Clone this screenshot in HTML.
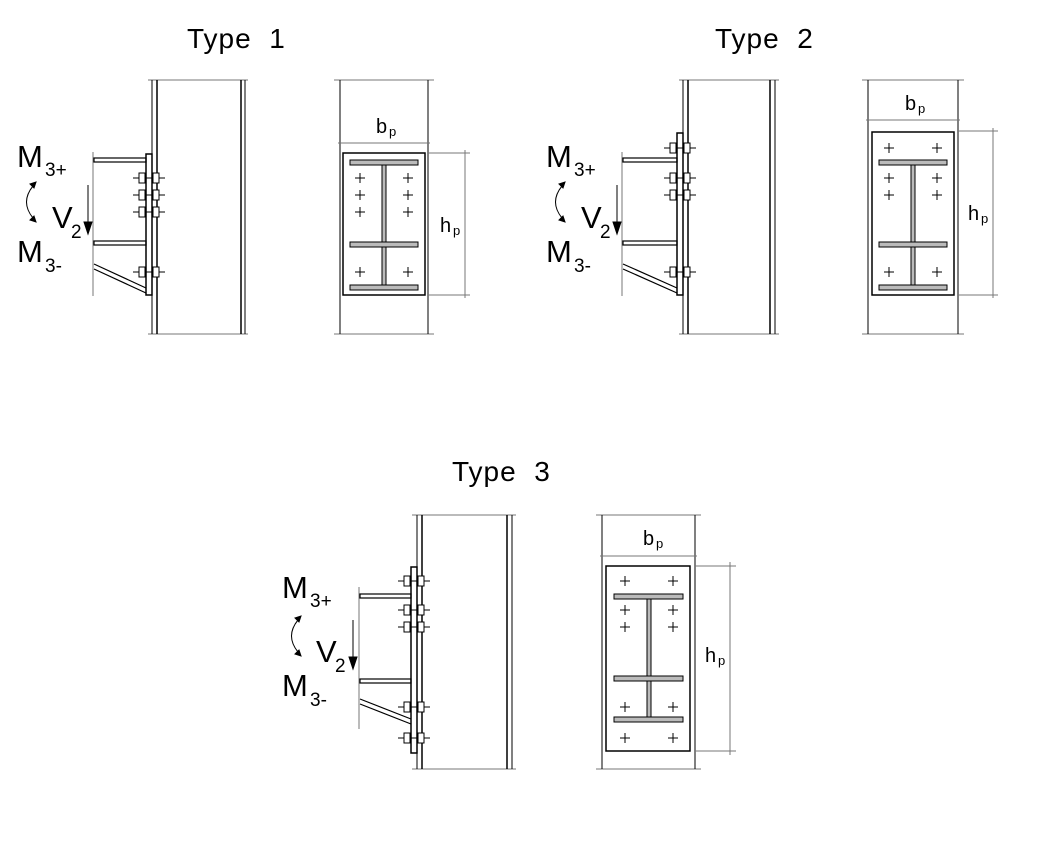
<!DOCTYPE html>
<html><head><meta charset="utf-8"><style>
html,body{margin:0;padding:0;background:#fff}
svg{display:block}
text{font-family:"Liberation Sans",sans-serif;fill:#000}
</style></head><body>
<svg width="1040" height="844" viewBox="0 0 1040 844" xmlns="http://www.w3.org/2000/svg">
<defs>
<g id="bolt" stroke="#000" stroke-width="1" fill="#fff">
<line x1="-16" y1="0" x2="16" y2="0"/>
<rect x="-10" y="-5" width="6" height="10"/>
<rect x="4" y="-5" width="6" height="10"/>
</g>
<g id="plus" stroke="#000" stroke-width="1">
<line x1="-5" y1="0" x2="5" y2="0"/><line x1="0" y1="-5" x2="0" y2="5"/>
</g>
</defs>

<!-- Titles -->
<text x="187" y="48" font-size="28" letter-spacing="1">Type&#160; 1</text>
<text x="715" y="48" font-size="28" letter-spacing="1">Type&#160; 2</text>
<text x="452" y="481" font-size="28" letter-spacing="1">Type&#160; 3</text>

<!-- ===== TYPE 1 SIDE ===== -->
<g stroke="#000" fill="none">
<line x1="148" y1="80" x2="248" y2="80" stroke="#777"/>
<line x1="148" y1="334" x2="248" y2="334" stroke="#777"/>
<line x1="152" y1="80" x2="152" y2="334"/><line x1="157" y1="80" x2="157" y2="334" stroke-width="1.5"/>
<line x1="241" y1="80" x2="241" y2="334" stroke-width="1.5"/><line x1="245" y1="80" x2="245" y2="334"/>
<rect x="146" y="154" width="6" height="141" fill="#fff" stroke-width="1.5"/>
<line x1="93" y1="152" x2="93" y2="296" stroke="#777"/>
<rect x="94" y="158" width="52" height="4" stroke-width="1.2"/>
<rect x="94" y="241" width="52" height="4" stroke-width="1.2"/>
<line x1="94" y1="264" x2="146" y2="288" stroke-width="1.2"/><line x1="94" y1="269" x2="146" y2="293" stroke-width="1.2"/>
<line x1="88" y1="185" x2="88" y2="224"/>
<path d="M84,222 L92,222 L88,234 Z" fill="#000"/>
<path d="M33,186 Q20,202 33,218" stroke-width="1"/>
<path d="M30,184 l6,-2 l-2,6z M30,220 l6,2 l-2,-6z" fill="#000"/>
</g>
<use href="#bolt" x="149" y="178"/><use href="#bolt" x="149" y="195"/><use href="#bolt" x="149" y="212"/><use href="#bolt" x="149" y="272"/>
<text x="17" y="167" font-size="31">M</text><text x="45" y="176" font-size="19">3+</text>
<text x="52" y="228" font-size="31">V</text><text x="71" y="238" font-size="19">2</text>
<text x="17" y="262" font-size="31">M</text><text x="45" y="272" font-size="19">3-</text>

<!-- ===== TYPE 1 FRONT ===== -->
<g stroke="#000" fill="none">
<line x1="334" y1="80" x2="434" y2="80" stroke="#777"/><line x1="334" y1="334" x2="434" y2="334" stroke="#777"/>
<line x1="340" y1="80" x2="340" y2="334"/><line x1="428" y1="80" x2="428" y2="334"/>
<line x1="338" y1="143" x2="430" y2="143" stroke="#777"/>
<rect x="343" y="153" width="82" height="142" stroke-width="1.5"/>
<rect x="350" y="160" width="68" height="5" fill="#bbb"/>
<rect x="350" y="242" width="68" height="5" fill="#bbb"/>
<rect x="350" y="285" width="68" height="5" fill="#bbb"/>
<rect x="382" y="165" width="4" height="77" fill="#bbb"/>
<rect x="382" y="247" width="4" height="38" fill="#bbb"/>
<line x1="428" y1="153" x2="470" y2="153" stroke="#777"/><line x1="428" y1="295" x2="470" y2="295" stroke="#777"/>
<line x1="465" y1="150" x2="465" y2="298" stroke="#777"/>
</g>
<use href="#plus" x="360" y="178"/><use href="#plus" x="408" y="178"/><use href="#plus" x="360" y="195"/><use href="#plus" x="408" y="195"/><use href="#plus" x="360" y="212"/><use href="#plus" x="408" y="212"/><use href="#plus" x="360" y="272"/><use href="#plus" x="408" y="272"/>
<text x="376" y="133" font-size="20">b</text><text x="389" y="136" font-size="13">p</text>
<text x="440" y="232" font-size="20">h</text><text x="453" y="235" font-size="13">p</text>

<!-- ===== TYPE 2 SIDE ===== -->
<g stroke="#000" fill="none">
<line x1="679" y1="80" x2="779" y2="80" stroke="#777"/><line x1="679" y1="334" x2="779" y2="334" stroke="#777"/>
<line x1="683" y1="80" x2="683" y2="334"/><line x1="688" y1="80" x2="688" y2="334" stroke-width="1.5"/>
<line x1="770" y1="80" x2="770" y2="334" stroke-width="1.5"/><line x1="775" y1="80" x2="775" y2="334"/>
<rect x="677" y="133" width="6" height="162" fill="#fff" stroke-width="1.5"/>
<line x1="622" y1="152" x2="622" y2="296" stroke="#777"/>
<rect x="623" y="158" width="54" height="4" stroke-width="1.2"/>
<rect x="623" y="241" width="54" height="4" stroke-width="1.2"/>
<line x1="623" y1="264" x2="677" y2="288" stroke-width="1.2"/><line x1="623" y1="269" x2="677" y2="293" stroke-width="1.2"/>
<line x1="617" y1="185" x2="617" y2="224"/>
<path d="M613,222 L621,222 L617,234 Z" fill="#000"/>
<path d="M562,186 Q549,202 562,218" stroke-width="1"/>
<path d="M559,184 l6,-2 l-2,6z M559,220 l6,2 l-2,-6z" fill="#000"/>
</g>
<use href="#bolt" x="680" y="148"/><use href="#bolt" x="680" y="178"/><use href="#bolt" x="680" y="195"/><use href="#bolt" x="680" y="272"/>
<text x="546" y="167" font-size="31">M</text><text x="574" y="176" font-size="19">3+</text>
<text x="581" y="228" font-size="31">V</text><text x="600" y="238" font-size="19">2</text>
<text x="546" y="262" font-size="31">M</text><text x="574" y="272" font-size="19">3-</text>

<!-- ===== TYPE 2 FRONT ===== -->
<g stroke="#000" fill="none">
<line x1="862" y1="80" x2="964" y2="80" stroke="#777"/><line x1="862" y1="334" x2="964" y2="334" stroke="#777"/>
<line x1="868" y1="80" x2="868" y2="334"/><line x1="958" y1="80" x2="958" y2="334"/>
<line x1="866" y1="120" x2="960" y2="120" stroke="#777"/>
<rect x="872" y="132" width="82" height="163" stroke-width="1.5"/>
<rect x="879" y="160" width="68" height="5" fill="#bbb"/>
<rect x="879" y="242" width="68" height="5" fill="#bbb"/>
<rect x="879" y="285" width="68" height="5" fill="#bbb"/>
<rect x="911" y="165" width="4" height="77" fill="#bbb"/>
<rect x="911" y="247" width="4" height="38" fill="#bbb"/>
<line x1="958" y1="131" x2="998" y2="131" stroke="#777"/><line x1="958" y1="295" x2="998" y2="295" stroke="#777"/>
<line x1="993" y1="128" x2="993" y2="298" stroke="#777"/>
</g>
<use href="#plus" x="889" y="148"/><use href="#plus" x="937" y="148"/><use href="#plus" x="889" y="178"/><use href="#plus" x="937" y="178"/><use href="#plus" x="889" y="195"/><use href="#plus" x="937" y="195"/><use href="#plus" x="889" y="272"/><use href="#plus" x="937" y="272"/>
<text x="905" y="110" font-size="20">b</text><text x="918" y="113" font-size="13">p</text>
<text x="968" y="220" font-size="20">h</text><text x="981" y="223" font-size="13">p</text>

<!-- ===== TYPE 3 SIDE ===== -->
<g stroke="#000" fill="none">
<line x1="412" y1="515" x2="516" y2="515" stroke="#777"/><line x1="412" y1="769" x2="516" y2="769" stroke="#777"/>
<line x1="417" y1="515" x2="417" y2="769"/><line x1="422" y1="515" x2="422" y2="769" stroke-width="1.5"/>
<line x1="507" y1="515" x2="507" y2="769" stroke-width="1.5"/><line x1="512" y1="515" x2="512" y2="769"/>
<rect x="411" y="567" width="6" height="186" fill="#fff" stroke-width="1.5"/>
<line x1="359" y1="587" x2="359" y2="729" stroke="#777"/>
<rect x="360" y="594" width="51" height="4" stroke-width="1.2"/>
<rect x="360" y="679" width="51" height="4" stroke-width="1.2"/>
<line x1="360" y1="699" x2="411" y2="719" stroke-width="1.2"/><line x1="360" y1="704" x2="411" y2="724" stroke-width="1.2"/>
<line x1="353" y1="620" x2="353" y2="659"/>
<path d="M349,657 L357,657 L353,669 Z" fill="#000"/>
<path d="M298,620 Q285,636 298,652" stroke-width="1"/>
<path d="M295,618 l6,-2 l-2,6z M295,654 l6,2 l-2,-6z" fill="#000"/>
</g>
<use href="#bolt" x="414" y="581"/><use href="#bolt" x="414" y="610"/><use href="#bolt" x="414" y="627"/><use href="#bolt" x="414" y="707"/><use href="#bolt" x="414" y="738"/>
<text x="282" y="598" font-size="31">M</text><text x="310" y="607" font-size="19">3+</text>
<text x="316" y="662" font-size="31">V</text><text x="335" y="672" font-size="19">2</text>
<text x="282" y="696" font-size="31">M</text><text x="310" y="706" font-size="19">3-</text>

<!-- ===== TYPE 3 FRONT ===== -->
<g stroke="#000" fill="none">
<line x1="596" y1="515" x2="701" y2="515" stroke="#777"/><line x1="596" y1="769" x2="701" y2="769" stroke="#777"/>
<line x1="602" y1="515" x2="602" y2="769"/><line x1="695" y1="515" x2="695" y2="769"/>
<line x1="600" y1="556" x2="697" y2="556" stroke="#777"/>
<rect x="606" y="566" width="84" height="185" stroke-width="1.5"/>
<rect x="614" y="594" width="69" height="5" fill="#bbb"/>
<rect x="614" y="676" width="69" height="5" fill="#bbb"/>
<rect x="614" y="717" width="69" height="5" fill="#bbb"/>
<rect x="647" y="599" width="4" height="77" fill="#bbb"/>
<rect x="647" y="681" width="4" height="36" fill="#bbb"/>
<line x1="695" y1="566" x2="736" y2="566" stroke="#777"/><line x1="695" y1="751" x2="736" y2="751" stroke="#777"/>
<line x1="730" y1="562" x2="730" y2="755" stroke="#777"/>
</g>
<use href="#plus" x="625" y="581"/><use href="#plus" x="673" y="581"/><use href="#plus" x="625" y="610"/><use href="#plus" x="673" y="610"/><use href="#plus" x="625" y="627"/><use href="#plus" x="673" y="627"/><use href="#plus" x="625" y="707"/><use href="#plus" x="673" y="707"/><use href="#plus" x="625" y="738"/><use href="#plus" x="673" y="738"/>
<text x="643" y="545" font-size="20">b</text><text x="656" y="548" font-size="13">p</text>
<text x="705" y="662" font-size="20">h</text><text x="718" y="665" font-size="13">p</text>
</svg>
</body></html>
